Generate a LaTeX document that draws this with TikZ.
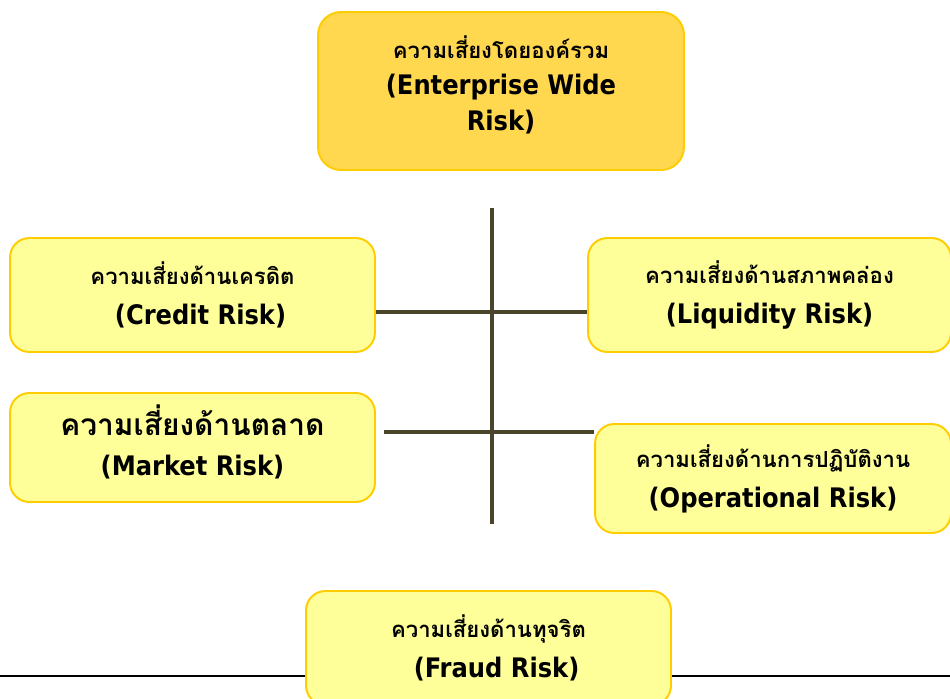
\documentclass[tikz,border=0pt]{standalone}
\usepackage{fontspec}
\setmainfont{DejaVu Sans Condensed}
\newfontfamily\thaifont[Script=Thai]{Loma}
\usetikzlibrary{calc}
\definecolor{goldfill}{HTML}{FFD84F}
\definecolor{paleyellow}{HTML}{FFFF99}
\definecolor{boxedge}{HTML}{FFCC00}
\definecolor{spinecol}{HTML}{4A442A}
\newcommand{\thsmall}{\thaifont\bfseries\fontsize{12.6}{16}\selectfont}
\newcommand{\thbig}{\thaifont\bfseries\fontsize{17}{20}\selectfont}
\newcommand{\lowpad}[1]{\rule[-#1]{0pt}{0pt}}

\begin{document}
\begin{tikzpicture}[x=0.02cm, y=-0.02cm,
    riskbox/.style={rectangle, rounded corners=11pt, draw=boxedge, line width=1.1pt, fill=paleyellow, minimum width=7.3cm, minimum height=2.28cm, align=center, inner sep=0pt, font=\bfseries\fontsize{15.3}{22.7}\selectfont},
    topbox/.style={riskbox, fill=goldfill, minimum width=7.32cm, minimum height=3.16cm, rounded corners=13pt, font=\bfseries\fontsize{15.3}{20.5}\selectfont},
    spine/.style={draw=spinecol, line width=2.8pt},
    rule/.style={draw=black, line width=1.1pt}
]
\clip (0,0) rectangle (950,698);

% Rule under the chart
\draw[rule] (0,676) -- (950,676);

% Risk boxes
\node[topbox] (enterprise) at (501,91) {{\thsmall ความเสี่ยงโดยองค์รวม}\\(Enterprise Wide\\Risk)\lowpad{9pt}};
\node[riskbox] (credit) at (192.5,295) {{\thsmall ความเสี่ยงด้านเครดิต}\\\hspace*{0.6em}(Credit Risk)};
\node[riskbox, minimum width=7.26cm] (liquidity) at (769.5,295) {{\thsmall ความเสี่ยงด้านสภาพคล่อง}\\(Liquidity Risk)};
\node[riskbox, minimum height=2.18cm] (market) at (192.5,447.5) {{\thbig ความเสี่ยงด้านตลาด}\\(Market Risk)\lowpad{8pt}};
\node[riskbox, minimum width=7.12cm, minimum height=2.18cm] (operational) at (773,478.5) {{\thsmall ความเสี่ยงด้านการปฏิบัติงาน}\\(Operational Risk)};
\node[riskbox] (fraud) at (488.5,648) {{\thsmall ความเสี่ยงด้านทุจริต}\\\hspace*{0.6em}(Fraud Risk)};

% Spine and branches
\coordinate (spinetop) at (492,208);
\coordinate (spinebot) at (492,524);
\coordinate (hubA) at (492,312);
\coordinate (hubB) at (492,432);
\draw[spine] (spinetop) -- (spinebot);
\draw[spine] (credit.east |- hubA) -- (liquidity.west |- hubA);
\draw[spine] ([xshift=0.16cm]market.east |- hubB) -- (operational.west |- hubB);

\end{tikzpicture}
\end{document}
